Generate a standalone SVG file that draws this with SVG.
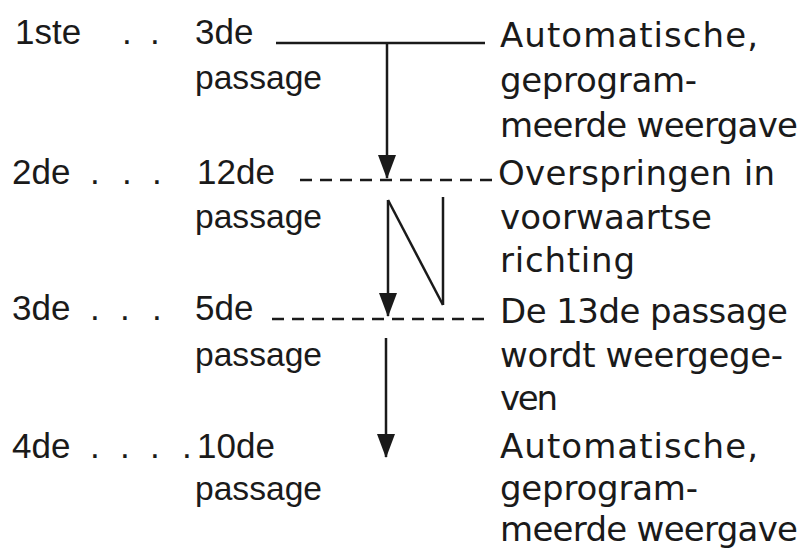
<svg xmlns="http://www.w3.org/2000/svg" width="804" height="555" viewBox="0 0 804 555">
<style>
.l{font-family:"Liberation Sans",Arial,sans-serif;font-size:35px;fill:#1a1a1a}
.p{font-family:"Liberation Sans",Arial,sans-serif;font-size:34px;fill:#1a1a1a}
.r{font-family:"DejaVu Sans","Liberation Sans",sans-serif;font-size:34px;fill:#1a1a1a}
.ln{stroke:#1a1a1a;stroke-width:2.5;fill:none}
.ds{stroke:#1a1a1a;stroke-width:2.5;fill:none;stroke-dasharray:12 8}
</style>
<defs>
<marker id="ah" markerUnits="userSpaceOnUse" markerWidth="26" markerHeight="20" refX="24" refY="10" orient="auto" viewBox="0 0 26 20">
<path d="M1,1 L25,10 L1,19 Z" fill="#1a1a1a"/>
</marker>
</defs>
<rect width="804" height="555" fill="#fff"/>
<g id="row1">
<text class="l" x="15" y="44">1ste</text>
<text class="l" x="122 150" y="44">..</text>
<text class="l" x="195" y="44">3de</text>
<text class="p" x="195" y="89" textLength="127" lengthAdjust="spacingAndGlyphs">passage</text>
<text class="r" x="500" y="47" textLength="258">Automatische,</text>
<text class="r" x="500" y="92" textLength="197">geprogram-</text>
<text class="r" x="500" y="137" textLength="298">meerde weergave</text>
</g>
<g id="row2">
<text class="l" x="12" y="184">2de</text>
<text class="l" x="90 122 152" y="184">...</text>
<text class="l" x="197" y="184">12de</text>
<text class="p" x="195" y="228" textLength="127" lengthAdjust="spacingAndGlyphs">passage</text>
<text class="r" x="498" y="185" textLength="277">Overspringen in</text>
<text class="r" x="500" y="229" textLength="212">voorwaartse</text>
<text class="r" x="500" y="272" textLength="135">richting</text>
</g>
<g id="row3">
<text class="l" x="12" y="320">3de</text>
<text class="l" x="90 120 152" y="320">...</text>
<text class="l" x="195" y="320">5de</text>
<text class="p" x="195" y="366" textLength="127" lengthAdjust="spacingAndGlyphs">passage</text>
<text class="r" x="500" y="323" textLength="288">De 13de passage</text>
<text class="r" x="500" y="367" textLength="283">wordt weergege-</text>
<text class="r" x="500" y="410" textLength="58">ven</text>
</g>
<g id="row4">
<text class="l" x="12" y="458">4de</text>
<text class="l" x="90 120 150 182" y="458">....</text>
<text class="l" x="197" y="458">10de</text>
<text class="p" x="195" y="500" textLength="127" lengthAdjust="spacingAndGlyphs">passage</text>
<text class="r" x="500" y="458" textLength="258">Automatische,</text>
<text class="r" x="500" y="500" textLength="198">geprogram-</text>
<text class="r" x="500" y="541" textLength="298">meerde weergave</text>
</g>
<g id="connectors">
<line class="ln" x1="276" y1="43" x2="485" y2="43"/>
<line class="ln" x1="387" y1="43" x2="387" y2="178" marker-end="url(#ah)"/>
<line class="ds" x1="300" y1="180" x2="493" y2="180"/>
<line class="ln" x1="388" y1="200" x2="388" y2="316" marker-end="url(#ah)"/>
<line class="ln" x1="388" y1="200" x2="443" y2="305"/>
<line class="ln" x1="443" y1="197" x2="443" y2="305"/>
<line class="ds" x1="272" y1="319" x2="488" y2="319"/>
<line class="ln" x1="386" y1="338" x2="386" y2="457" marker-end="url(#ah)"/>
</g>
</svg>
